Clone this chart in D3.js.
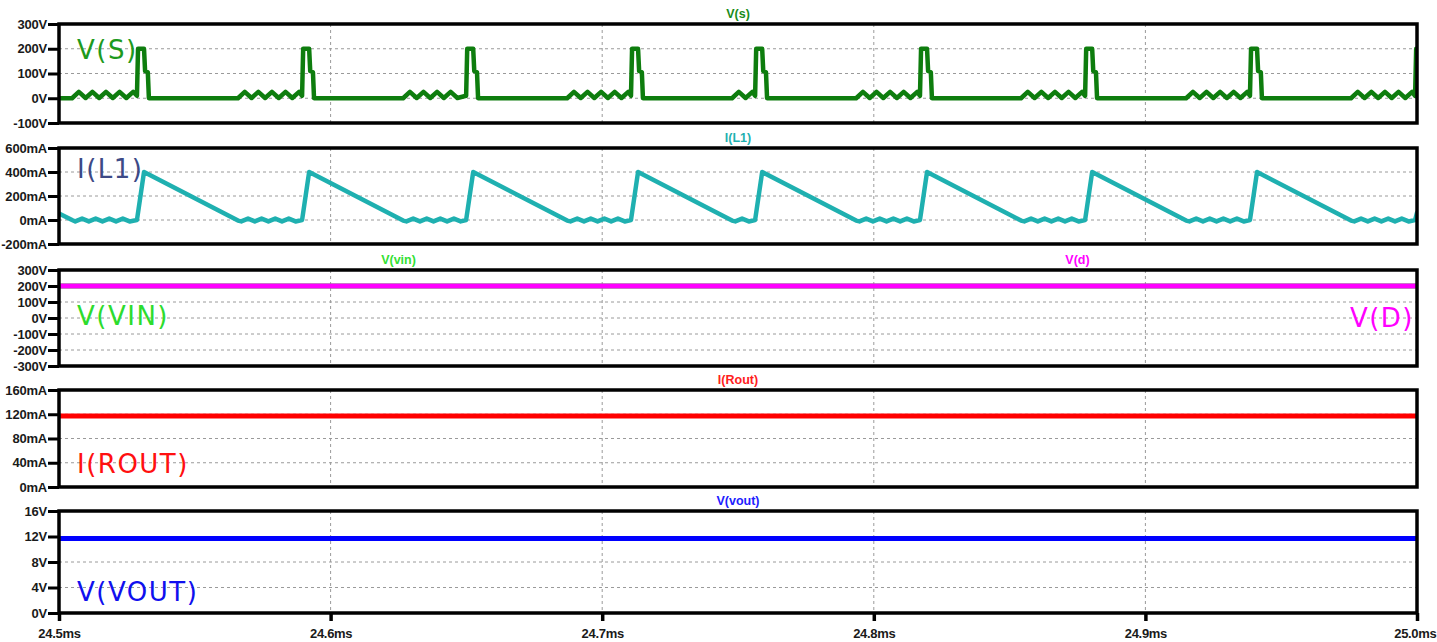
<!DOCTYPE html>
<html><head><meta charset="utf-8">
<script src="https://cdn.jsdelivr.net/npm/d3@7"></script>
<style>html,body{margin:0;padding:0;background:#fff;} svg{display:block}</style>
</head><body><svg id="chart" width="1437" height="642"></svg>
<script>
// ---------- DATA ----------
const timeTicks = [24.5, 24.6, 24.7, 24.8, 24.9, 25.0];
const timeTickLabels = ["24.5ms","24.6ms","24.7ms","24.8ms","24.9ms","25.0ms"];

const vsTicks = [-100, 0, 100, 200, 300];
const vsTickLabels = ["-100V","0V","100V","200V","300V"];
const il1Ticks = [-200, 0, 200, 400, 600];
const il1TickLabels = ["-200mA","0mA","200mA","400mA","600mA"];
const vinTicks = [-300, -200, -100, 0, 100, 200, 300];
const vinTickLabels = ["-300V","-200V","-100V","0V","100V","200V","300V"];
const routTicks = [0, 40, 80, 120, 160];
const routTickLabels = ["0mA","40mA","80mA","120mA","160mA"];
const voutTicks = [0, 4, 8, 12, 16];
const voutTickLabels = ["0V","4V","8V","12V","16V"];

// V(s) switch node voltage [ms, V]
const vS = [
 [24.5000,0],[24.5048,0],
 [24.5073,26],[24.5098,1],[24.5123,26],[24.5148,1],[24.5173,26],[24.5198,1],[24.5223,26],[24.5248,1],[24.5273,26],
 [24.5287,10],[24.5291,200],[24.5313,200],[24.5317,110],[24.5327,105],[24.5331,0],
 [24.5659,0],
 [24.5684,26],[24.5709,1],[24.5734,26],[24.5759,1],[24.5784,26],[24.5809,1],[24.5834,26],[24.5859,1],[24.5884,26],
 [24.5895,10],[24.5899,200],[24.5921,200],[24.5925,110],[24.5935,105],[24.5939,0],
 [24.6267,0],
 [24.6292,26],[24.6317,1],[24.6342,26],[24.6367,1],[24.6392,26],[24.6417,1],[24.6442,26],[24.6467,1],
 [24.6499,10],[24.6503,200],[24.6525,200],[24.6529,110],[24.6539,105],[24.6543,0],
 [24.6871,0],
 [24.6896,26],[24.6921,1],[24.6946,26],[24.6971,1],[24.6996,26],[24.7021,1],[24.7046,26],[24.7071,1],[24.7096,26],
 [24.7106,10],[24.7110,200],[24.7132,200],[24.7136,110],[24.7146,105],[24.7150,0],
 [24.7478,0],
 [24.7503,26],[24.7528,1],[24.7553,26],
 [24.7563,10],[24.7567,200],[24.7589,200],[24.7593,110],[24.7603,105],[24.7607,0],
 [24.7935,0],
 [24.7960,26],[24.7985,1],[24.8010,26],[24.8035,1],[24.8060,26],[24.8085,1],[24.8110,26],[24.8135,1],[24.8160,26],
 [24.8170,10],[24.8174,200],[24.8196,200],[24.8200,110],[24.8210,105],[24.8214,0],
 [24.8542,0],
 [24.8567,26],[24.8592,1],[24.8617,26],[24.8642,1],[24.8667,26],[24.8692,1],[24.8717,26],[24.8742,1],[24.8767,26],
 [24.8778,10],[24.8782,200],[24.8804,200],[24.8808,110],[24.8818,105],[24.8822,0],
 [24.9150,0],
 [24.9175,26],[24.9200,1],[24.9225,26],[24.9250,1],[24.9275,26],[24.9300,1],[24.9325,26],[24.9350,1],[24.9375,26],
 [24.9385,10],[24.9389,200],[24.9411,200],[24.9415,110],[24.9425,105],[24.9429,0],
 [24.9757,0],
 [24.9782,26],[24.9807,1],[24.9832,26],[24.9857,1],[24.9882,26],[24.9907,1],[24.9932,26],[24.9957,1],[24.9982,26],
 [24.9993,10],[24.9997,200],[25.0000,200]
];

// I(L1) inductor current [ms, mA]
const iL1 = [
 [24.5000,55],[24.5048,0],
 [24.5060,-12],[24.5085,12],[24.5110,-12],[24.5135,12],[24.5160,-12],[24.5185,12],[24.5210,-12],[24.5235,12],[24.5260,-12],
 [24.5287,0],[24.5313,400],[24.5659,-5],
 [24.5671,-12],[24.5696,12],[24.5721,-12],[24.5746,12],[24.5771,-12],[24.5796,12],[24.5821,-12],[24.5846,12],[24.5871,-12],
 [24.5895,0],[24.5921,400],[24.6267,-5],
 [24.6279,-12],[24.6304,12],[24.6329,-12],[24.6354,12],[24.6379,-12],[24.6404,12],[24.6429,-12],[24.6454,12],[24.6479,-12],
 [24.6499,0],[24.6525,400],[24.6871,-5],
 [24.6883,-12],[24.6908,12],[24.6933,-12],[24.6958,12],[24.6983,-12],[24.7008,12],[24.7033,-12],[24.7058,12],[24.7083,-12],
 [24.7106,0],[24.7132,400],[24.7478,-5],
 [24.7490,-12],[24.7515,12],[24.7540,-12],
 [24.7563,0],[24.7589,400],[24.7935,-5],
 [24.7947,-12],[24.7972,12],[24.7997,-12],[24.8022,12],[24.8047,-12],[24.8072,12],[24.8097,-12],[24.8122,12],[24.8147,-12],
 [24.8170,0],[24.8196,400],[24.8542,-5],
 [24.8554,-12],[24.8579,12],[24.8604,-12],[24.8629,12],[24.8654,-12],[24.8679,12],[24.8704,-12],[24.8729,12],[24.8754,-12],
 [24.8778,0],[24.8804,400],[24.9150,-5],
 [24.9162,-12],[24.9187,12],[24.9212,-12],[24.9237,12],[24.9262,-12],[24.9287,12],[24.9312,-12],[24.9337,12],[24.9362,-12],
 [24.9385,0],[24.9411,400],[24.9757,-5],
 [24.9769,-12],[24.9794,12],[24.9819,-12],[24.9844,12],[24.9869,-12],[24.9894,12],[24.9919,-12],[24.9944,12],[24.9969,-12],
 [24.9993,0],[25.0000,60]
];

const vVin  = [[24.5,200],[25.0,200]];
const vD    = [[24.5,200],[25.0,200]];
const iRout = [[24.5,117],[25.0,117]];
const vVout = [[24.5,11.7],[25.0,11.7]];

// ---------- DRAW ----------
const svg = d3.select("#chart");
svg.append("rect").attr("width",1437).attr("height",642).attr("fill","#fff");
const L = 59, R = 1417;
const x = d3.scaleLinear().domain([24.5, 25.0]).range([L, R]);
const tickFont = "'Liberation Sans', Arial, sans-serif";
const bigFont = "'DejaVu Sans', Verdana, sans-serif";

const panels = [
  {top:24, bottom:123, ticks:vsTicks, labels:vsTickLabels,
   series:[{data:vS, color:"#0e7d0e", w:4.5}],
   titles:[{text:"V(s)", fx:0.5, color:"#1a8c1a"}],
   big:[{text:"V(S)", x:77, y:59, color:"#1d9a1d", anchor:"start"}]},
  {top:148, bottom:244, ticks:il1Ticks, labels:il1TickLabels,
   series:[{data:iL1, color:"#1fb0b0", w:4.5}],
   titles:[{text:"I(L1)", fx:0.5, color:"#1fb0b0"}],
   big:[{text:"I(L1)", x:77, y:178, color:"#3d4a86", anchor:"start"}]},
  {top:270, bottom:366, ticks:vinTicks, labels:vinTickLabels,
   series:[{data:vVin, color:"#22dd22", w:5},{data:vD, color:"#ff00ff", w:5}],
   titles:[{text:"V(vin)", fx:0.25, color:"#33e033"},{text:"V(d)", fx:0.75, color:"#ff00ff"}],
   big:[{text:"V(VIN)", x:77, y:325, color:"#2ddc2d", anchor:"start"},
        {text:"V(D)", x:1414, y:327, color:"#ff00ff", anchor:"end"}]},
  {top:390, bottom:487, ticks:routTicks, labels:routTickLabels,
   series:[{data:iRout, color:"#ff0000", w:5}],
   titles:[{text:"I(Rout)", fx:0.5, color:"#ff2020"}],
   big:[{text:"I(ROUT)", x:77, y:473, color:"#ff1010", anchor:"start"}]},
  {top:511, bottom:613, ticks:voutTicks, labels:voutTickLabels,
   series:[{data:vVout, color:"#0000ff", w:5}],
   titles:[{text:"V(vout)", fx:0.5, color:"#2020ff"}],
   big:[{text:"V(VOUT)", x:77, y:601, color:"#1010ee", anchor:"start"}]}
];

const defs = svg.append("defs");

panels.forEach((p, i) => {
  const y = d3.scaleLinear().domain(d3.extent(p.ticks)).range([p.bottom, p.top]);
  const g = svg.append("g");
  defs.append("clipPath").attr("id","clip"+i).append("rect")
    .attr("x",L).attr("y",p.top).attr("width",R-L).attr("height",p.bottom-p.top);

  // grid
  const grid = g.append("g").attr("stroke","#9a9a9a").attr("stroke-width",1).attr("stroke-dasharray","3,3");
  timeTicks.slice(1,-1).forEach(t => grid.append("line")
    .attr("x1",x(t)).attr("x2",x(t)).attr("y1",p.top).attr("y2",p.bottom));
  p.ticks.slice(1,-1).forEach(v => grid.append("line")
    .attr("x1",L).attr("x2",R).attr("y1",y(v)).attr("y2",y(v)));

  // big labels
  p.big.forEach(b => g.append("text").attr("x",b.x).attr("y",b.y)
    .attr("text-anchor",b.anchor).attr("fill",b.color)
    .attr("font-family",bigFont).attr("font-size",26).attr("letter-spacing",1.5)
    .text(b.text));

  // series
  const line = d3.line().x(d => x(d[0])).y(d => y(d[1]));
  const sg = g.append("g").attr("clip-path","url(#clip"+i+")");
  p.series.forEach(s => sg.append("path").datum(s.data)
    .attr("d",line).attr("fill","none").attr("stroke",s.color)
    .attr("stroke-width",s.w).attr("stroke-linejoin","round").attr("stroke-linecap","round"));

  // left axis
  const ax = d3.axisLeft(y).tickValues(p.ticks)
    .tickFormat((d,k) => p.labels[k]).tickSize(11).tickPadding(1);
  const ag = g.append("g").attr("transform",`translate(${L},0)`).call(ax);
  ag.select(".domain").remove();
  ag.selectAll(".tick line").attr("stroke","#000").attr("stroke-width",3);
  ag.selectAll(".tick text").attr("fill","#1a1a1a").attr("font-family",tickFont)
    .attr("font-weight","bold").attr("font-size",13).attr("letter-spacing",-0.2);

  // frame
  g.append("rect").attr("x",L).attr("y",p.top).attr("width",R-L).attr("height",p.bottom-p.top)
    .attr("fill","none").attr("stroke","#000").attr("stroke-width",3.5);

  // titles
  p.titles.forEach(t => g.append("text").attr("x",L+(R-L)*t.fx).attr("y",p.top-6)
    .attr("text-anchor","middle").attr("fill",t.color).attr("font-family",tickFont)
    .attr("font-weight","bold").attr("font-size",12.5).text(t.text));

  if (i === panels.length-1) {
    const bx = d3.axisBottom(x).tickValues(timeTicks)
      .tickFormat((d,k) => timeTickLabels[k]).tickSize(8).tickPadding(8);
    const bg = g.append("g").attr("transform",`translate(0,${p.bottom})`).call(bx);
    bg.select(".domain").remove();
    bg.selectAll(".tick line").attr("stroke","#000").attr("stroke-width",3.5);
    bg.selectAll(".tick text").attr("fill","#1a1a1a").attr("font-family",tickFont)
      .attr("font-weight","bold").attr("font-size",13).attr("letter-spacing",-0.3);
    // keep the last label inside the picture
    bg.selectAll(".tick text").filter((d,k) => k === timeTicks.length-1)
      .attr("text-anchor","end").attr("x",19);
  }
});
</script></body></html>
